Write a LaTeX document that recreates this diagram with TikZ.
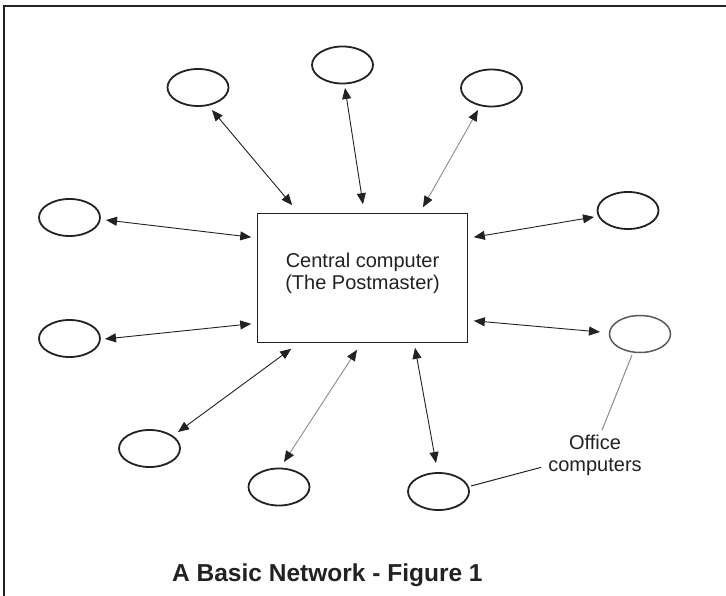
\documentclass[tikz,border=0pt]{standalone}
\usepackage{fontspec}
\setmainfont{Liberation Sans}
\usetikzlibrary{arrows.meta,calc,shapes.geometric}
\definecolor{ink}{HTML}{222222}
\definecolor{grayline}{HTML}{8C8C8C}
\definecolor{grayell}{HTML}{5A5A5A}
\begin{document}
\begin{tikzpicture}[x=1pt,y=-1pt,
  pc/.style={ellipse,draw=ink,line width=1.8pt,minimum width=61pt,minimum height=37pt,inner sep=0pt},
  tipx/.tip={Triangle[length=11pt,width=9pt,color=ink]},
  link/.style={draw=ink,line width=0.9pt,tipx-tipx},
  glink/.style={draw=grayline,line width=0.9pt,tipx-tipx},
  txt/.style={text=ink,font=\fontsize{20}{22}\selectfont,align=center,inner sep=0pt}
]
\useasboundingbox (0,0) rectangle (726,596);
\fill[white] (0,0) rectangle (726,596);
% frame
\draw[ink,line width=2.5pt] (2.5,6) -- (726,6);
\draw[ink,line width=2pt] (3.5,5) -- (3.5,596);

% central computer
\node[draw=ink,line width=1.6pt,minimum width=210pt,minimum height=129pt,inner sep=0pt] (cc) at (362.5,278) {};
\node[txt] (cctext) at ($(cc)+(0,-5)$) {Central computer\\(The Postmaster)};

% office computers
\node[pc] (e1) at (198,87.5) {};
\node[pc] (e2) at (342.5,65) {};
\node[pc] (e3) at (491.5,88) {};
\node[pc] (e4) at (628,210.5) {};
\node[pc] (e5) at (69.5,217.5) {};
\node[pc] (e6) at (69.5,338.5) {};
\node[pc,draw=grayell,line width=1.5pt] (e7) at (640,334) {};
\node[pc] (e8) at (149.5,448.5) {};
\node[pc] (e9) at (279,487) {};
\node[pc] (e10) at (438.5,491.5) {};

% links
\draw[link] ($(e1)+(14,22.5)$) -- ($(cc.north west)+(35.5,-7.5)$);
\draw[link] ($(e2)+(2.5,23)$) -- ($(cc.north)+(0.5,-8.5)$);
\draw[glink] ($(e3)+(-13.5,22)$) -- ($(cc.north)+(60.5,-5.5)$);
\draw[link] ($(e4)+(-34,6.5)$) -- ($(cc.north east)+(5.5,24.5)$);
\draw[link] ($(e5)+(36.5,2.5)$) -- ($(cc.north west)+(-5.5,24.5)$);
\draw[link] ($(e6)+(35.5,0.5)$) -- ($(cc.south west)+(-5.5,-19.5)$);
\draw[link] ($(e7)+(-40,-2)$) -- ($(cc.south east)+(5.5,-22.5)$);
\draw[link] ($(e8)+(28.5,-16.5)$) -- ($(cc.south west)+(34.5,5.5)$);
\draw[glink] ($(e9)+(5,-25)$) -- ($(cc.south)+(-5.5,6.5)$);
\draw[link] ($(cc.south)+(52.5,4.5)$) -- ($(e10)+(-2.5,-28.5)$);

% label
\node[txt,anchor=north] (lbl) at (595,435.3) {Office\\computers};
\draw[grayline,line width=1pt] ($(e7)+(-8,21)$) -- ($(lbl.north)+(7,-5)$);
\draw[ink,line width=1pt] ($(e10)+(32.5,-5.5)$) -- ($(lbl.south west)+(-7,-9)$);

% caption
\node[text=ink,font=\bfseries\fontsize{24.5}{28}\selectfont,anchor=base west,inner sep=0pt] (cap) at (172,581) {A Basic Network - Figure 1};
\end{tikzpicture}
\end{document}
